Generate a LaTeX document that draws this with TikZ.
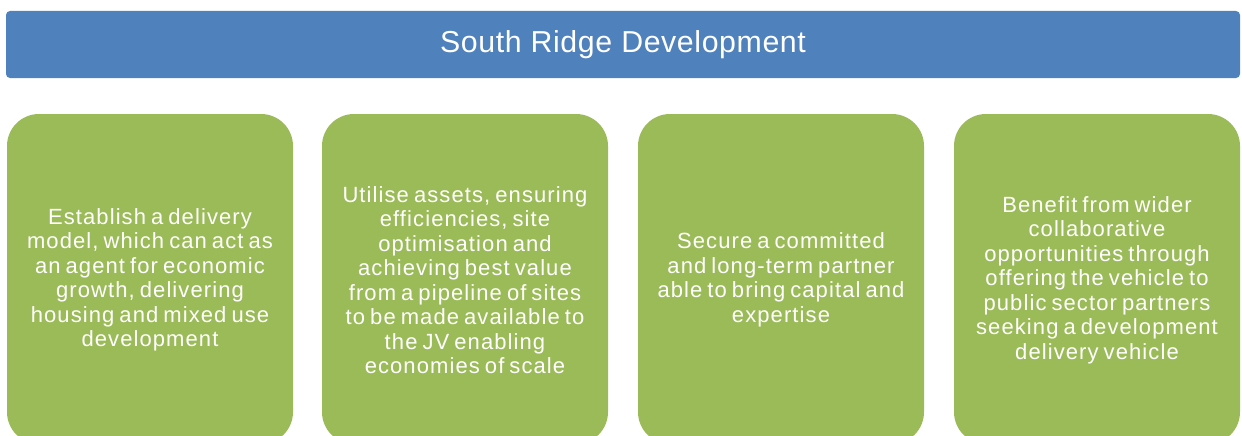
\documentclass[tikz,border=0pt]{standalone}
\usepackage{fontspec}
\setmainfont{Liberation Sans}
\newfontfamily\headfont[LetterSpace=2]{Liberation Sans}
\newfontfamily\boxfont[LetterSpace=5,WordSpace=0.7]{Liberation Sans}
\definecolor{hdrblue}{HTML}{4F81BD}
\definecolor{boxgreen}{HTML}{9BBB59}
\tikzset{
  header/.style={fill=hdrblue, draw=none, rounded corners=4pt},
  panel/.style={fill=boxgreen, draw=none, rounded corners=32pt},
  headtext/.style={text=white, font=\headfont\fontsize{30.3}{34}\selectfont, inner sep=0pt},
  paneltext/.style={text=white, align=center, font=\boxfont\fontsize{22}{24.5}\selectfont, inner sep=0pt}
}
\begin{document}
\begin{tikzpicture}[x=1pt,y=-1pt]
\useasboundingbox (0,0) rectangle (1242,436);
\path[header] (6,11) rectangle (1240,78);
\node[headtext] (title) at (623,45) {South Ridge Development};
\path[panel] (7,114) rectangle (293,444);
\path[panel] (322,114) rectangle (608,444);
\path[panel] (638,114) rectangle (924,444);
\path[panel] (954,114) rectangle (1240,444);
\node[paneltext] (t1) at (150,280) {Establish a delivery\\model, which can act as\\an agent for economic\\growth, delivering\\housing and mixed use\\development};
\node[paneltext] (t2) at (465,280) {Utilise assets, ensuring\\efficiencies, site\\optimisation and\\achieving best value\\from a pipeline of sites\\to be made available to\\the JV enabling\\economies of scale};
\node[paneltext] (t3) at (781,280) {Secure a committed\\and long-term partner\\able to bring capital and\\expertise};
\node[paneltext] (t4) at (1097,280) {Benefit from wider\\collaborative\\opportunities through\\offering the vehicle to\\public sector partners\\seeking a development\\delivery vehicle};
\end{tikzpicture}
\end{document}
